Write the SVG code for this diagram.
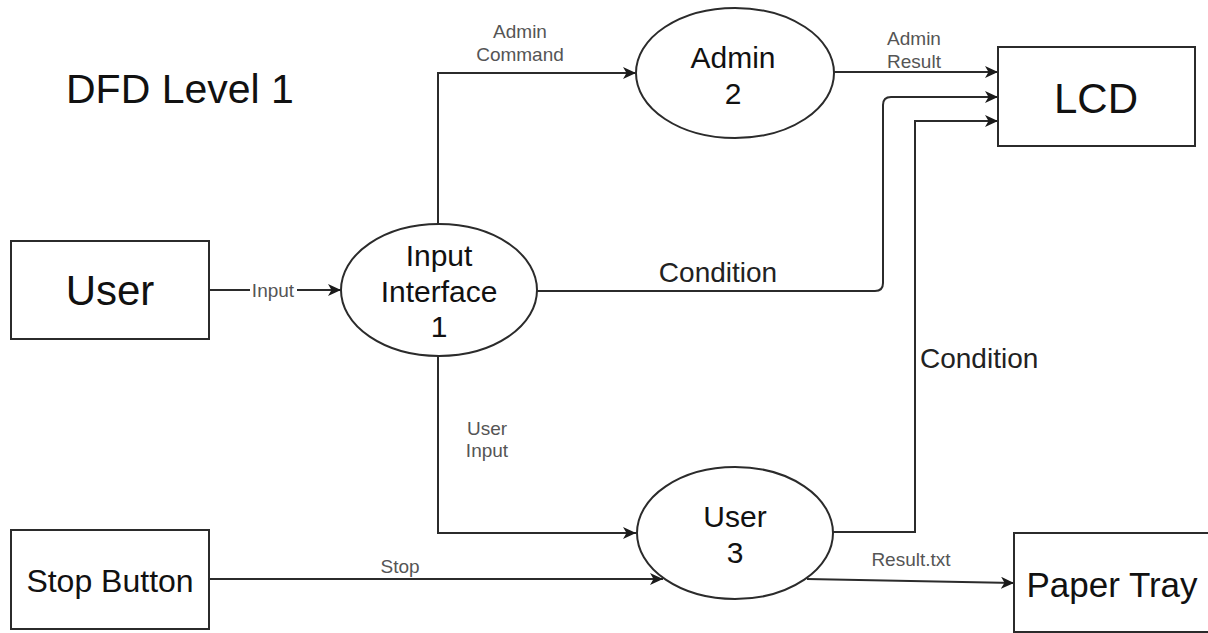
<svg xmlns="http://www.w3.org/2000/svg" width="1208" height="633" viewBox="0 0 1208 633">
<style>
  .shape { fill: #ffffff; stroke: #2b2b2b; stroke-width: 2; }
  .edge { fill: none; stroke: #2b2b2b; stroke-width: 2; }
  .big { font-family: "Liberation Sans", Arial, sans-serif; fill: #111111; text-anchor: middle; }
  .lbl { font-family: "Liberation Sans", Arial, sans-serif; fill: #555555; font-size: 19px; text-anchor: middle; }
  .cond { font-family: "Liberation Sans", Arial, sans-serif; fill: #222222; font-size: 28px; }
</style>
<defs>
  <marker id="arrow" markerUnits="userSpaceOnUse" markerWidth="14" markerHeight="12" refX="13" refY="6" orient="auto">
    <path d="M0,0 L13,6 L0,12 L3.5,6 Z" fill="#1a1a1a"/>
  </marker>
</defs>
<rect width="1208" height="633" fill="#ffffff"/>

<text id="title" x="66" y="103" class="big" style="text-anchor:start;font-size:41px">DFD Level 1</text>

<g id="connectors">
  <line class="edge" x1="209" y1="290" x2="341" y2="290" marker-end="url(#arrow)"/>
  <path class="edge" d="M438,224 L438,73 L636,73" marker-end="url(#arrow)"/>
  <line class="edge" x1="834" y1="72" x2="998" y2="72" marker-end="url(#arrow)"/>
  <path class="edge" d="M537,291 L875,291 Q883,291 883,283 L883,105 Q883,97 891,97 L998,97" marker-end="url(#arrow)"/>
  <path class="edge" d="M833,532 L915,532 L915,121 L998,121" marker-end="url(#arrow)"/>
  <path class="edge" d="M438,356 L438,533 L636,533" marker-end="url(#arrow)"/>
  <line class="edge" x1="209" y1="579" x2="663" y2="579" marker-end="url(#arrow)"/>
  <line class="edge" x1="807" y1="579" x2="1014" y2="583" marker-end="url(#arrow)"/>

  <rect x="250" y="279" width="47" height="22" fill="#ffffff"/>
  <text class="lbl" x="273" y="297">Input</text>
  <text class="lbl" x="520" y="38">Admin</text>
  <text class="lbl" x="520" y="61">Command</text>
  <text class="lbl" x="914" y="45">Admin</text>
  <text class="lbl" x="914" y="68">Result</text>
  <text class="cond" x="718" y="282" style="text-anchor:middle">Condition</text>
  <text class="cond" x="920" y="368">Condition</text>
  <text class="lbl" x="487" y="435">User</text>
  <text class="lbl" x="487" y="457">Input</text>
  <text class="lbl" x="400" y="573">Stop</text>
  <text class="lbl" x="911" y="566">Result.txt</text>
</g>

<g id="user">
  <rect class="shape" x="11" y="241" width="198" height="98"/>
  <text class="big" x="110" y="305" font-size="42">User</text>
</g>

<g id="stop-button">
  <rect class="shape" x="11" y="530" width="198" height="99"/>
  <text class="big" x="110" y="592" font-size="32">Stop Button</text>
</g>

<g id="input-interface">
  <ellipse class="shape" cx="439" cy="290" rx="98" ry="66"/>
  <text class="big" x="439" y="266" font-size="30">Input</text>
  <text class="big" x="439" y="302" font-size="30">Interface</text>
  <text class="big" x="439" y="337" font-size="30">1</text>
</g>

<g id="admin">
  <ellipse class="shape" cx="735" cy="73" rx="99" ry="65"/>
  <text class="big" x="733" y="68" font-size="30">Admin</text>
  <text class="big" x="733" y="104" font-size="30">2</text>
</g>

<g id="user-process">
  <ellipse class="shape" cx="735" cy="533" rx="98" ry="66"/>
  <text class="big" x="735" y="527" font-size="30">User</text>
  <text class="big" x="735" y="563" font-size="30">3</text>
</g>

<g id="lcd">
  <rect class="shape" x="998" y="47" width="197" height="99"/>
  <text class="big" x="1096" y="113" font-size="42">LCD</text>
</g>

<g id="paper-tray">
  <rect class="shape" x="1014" y="533" width="210" height="99"/>
  <text class="big" x="1112" y="597" font-size="35">Paper Tray</text>
</g>
</svg>
